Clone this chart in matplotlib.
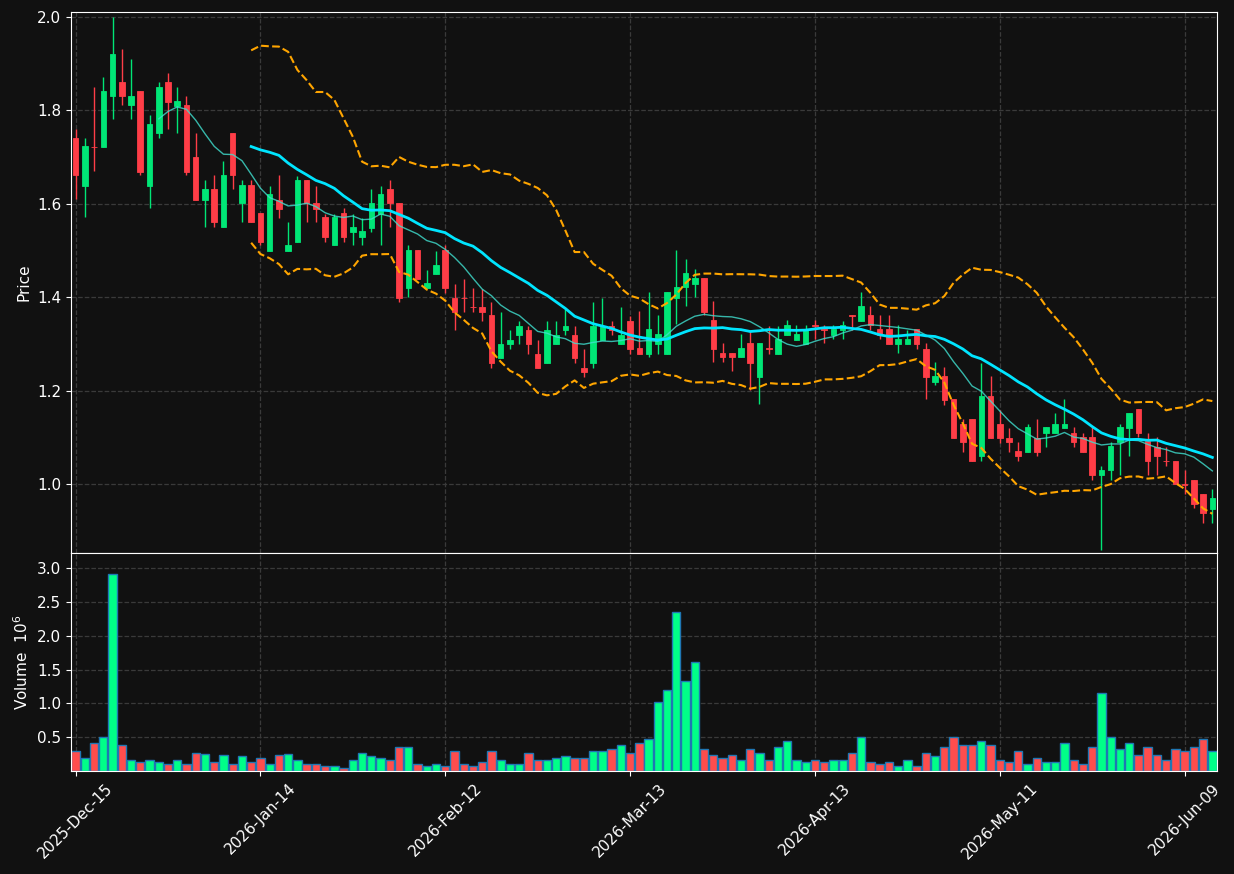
import matplotlib
matplotlib.use('Agg')
from matplotlib import pyplot as plt
import numpy as np
import pandas as pd

# daily candles, index 0 = 2025-Dec-15 (business days)
opens = [1.742, 1.639, 1.722, 1.721, 1.830, 1.861, 1.811, 1.842, 1.639, 1.751,
         1.861, 1.809, 1.812, 1.701, 1.609, 1.632, 1.550, 1.752, 1.601, 1.641,
         1.581, 1.499, 1.609, 1.499, 1.518, 1.650, 1.601, 1.571, 1.511, 1.580,
         1.540, 1.529, 1.549, 1.579, 1.631, 1.601, 1.420, 1.501, 1.420, 1.450,
         1.501, 1.399, 1.399, 1.379, 1.379, 1.361, 1.269, 1.299, 1.319, 1.330,
         1.279, 1.259, 1.299, 1.329, 1.319, 1.249, 1.259, 1.309, 1.339, 1.299,
         1.349, 1.291, 1.279, 1.300, 1.279, 1.399, 1.421, 1.429, 1.441, 1.351,
         1.281, 1.281, 1.271, 1.301, 1.230, 1.291, 1.279, 1.320, 1.309, 1.300,
         1.340, 1.331, 1.320, 1.330, 1.361, 1.350, 1.361, 1.331, 1.331, 1.300,
         1.300, 1.331, 1.290, 1.218, 1.231, 1.181, 1.129, 1.140, 1.059, 1.189,
         1.129, 1.099, 1.070, 1.068, 1.098, 1.109, 1.109, 1.120, 1.110, 1.100,
         1.100, 1.019, 1.029, 1.089, 1.120, 1.160, 1.091, 1.080, 1.049, 1.050,
         0.999, 1.009, 0.979, 0.947]
highs = [1.761, 1.741, 1.850, 1.871, 2.000, 1.931, 1.910, 1.842, 1.790, 1.861,
         1.880, 1.850, 1.831, 1.751, 1.651, 1.661, 1.691, 1.752, 1.651, 1.651,
         1.581, 1.639, 1.661, 1.560, 1.660, 1.650, 1.639, 1.579, 1.579, 1.590,
         1.579, 1.570, 1.631, 1.639, 1.650, 1.601, 1.511, 1.501, 1.459, 1.500,
         1.511, 1.429, 1.439, 1.420, 1.418, 1.389, 1.368, 1.330, 1.349, 1.339,
         1.309, 1.349, 1.349, 1.375, 1.339, 1.289, 1.389, 1.399, 1.349, 1.379,
         1.359, 1.370, 1.411, 1.361, 1.411, 1.501, 1.482, 1.461, 1.441, 1.391,
         1.301, 1.281, 1.321, 1.329, 1.301, 1.339, 1.339, 1.351, 1.340, 1.340,
         1.351, 1.341, 1.340, 1.350, 1.361, 1.411, 1.381, 1.361, 1.361, 1.340,
         1.330, 1.331, 1.301, 1.261, 1.250, 1.181, 1.139, 1.140, 1.260, 1.231,
         1.159, 1.120, 1.090, 1.129, 1.140, 1.121, 1.151, 1.181, 1.121, 1.110,
         1.121, 1.039, 1.090, 1.129, 1.151, 1.160, 1.110, 1.101, 1.080, 1.050,
         1.030, 1.009, 0.979, 0.989]
lows = [1.611, 1.571, 1.670, 1.721, 1.781, 1.811, 1.781, 1.661, 1.591, 1.741,
        1.760, 1.751, 1.661, 1.609, 1.550, 1.550, 1.550, 1.631, 1.560, 1.560,
        1.512, 1.499, 1.570, 1.499, 1.518, 1.560, 1.560, 1.519, 1.511, 1.519,
        1.511, 1.511, 1.540, 1.511, 1.551, 1.390, 1.400, 1.440, 1.420, 1.450,
        1.410, 1.330, 1.368, 1.368, 1.349, 1.249, 1.269, 1.289, 1.300, 1.279,
        1.249, 1.259, 1.299, 1.319, 1.259, 1.229, 1.249, 1.309, 1.319, 1.299,
        1.279, 1.279, 1.271, 1.279, 1.279, 1.342, 1.381, 1.400, 1.362, 1.261,
        1.261, 1.241, 1.271, 1.201, 1.171, 1.279, 1.279, 1.320, 1.309, 1.300,
        1.310, 1.301, 1.310, 1.310, 1.330, 1.350, 1.330, 1.310, 1.300, 1.280,
        1.300, 1.290, 1.181, 1.211, 1.170, 1.098, 1.069, 1.049, 1.049, 1.098,
        1.088, 1.069, 1.049, 1.068, 1.059, 1.079, 1.109, 1.120, 1.079, 1.068,
        1.009, 0.858, 1.009, 1.019, 1.059, 1.101, 1.019, 1.019, 1.039, 0.999,
        0.978, 0.948, 0.917, 0.917]
closes = [1.661, 1.723, 1.721, 1.842, 1.921, 1.830, 1.831, 1.669, 1.771, 1.851,
          1.819, 1.821, 1.669, 1.609, 1.632, 1.560, 1.662, 1.661, 1.641, 1.560,
          1.519, 1.620, 1.589, 1.511, 1.650, 1.601, 1.589, 1.529, 1.571, 1.529,
          1.550, 1.541, 1.601, 1.621, 1.601, 1.399, 1.501, 1.440, 1.430, 1.470,
          1.420, 1.368, 1.398, 1.378, 1.368, 1.259, 1.300, 1.309, 1.339, 1.299,
          1.249, 1.330, 1.319, 1.339, 1.269, 1.239, 1.339, 1.339, 1.329, 1.319,
          1.288, 1.279, 1.331, 1.321, 1.411, 1.421, 1.452, 1.441, 1.369, 1.290,
          1.271, 1.271, 1.291, 1.260, 1.301, 1.290, 1.311, 1.340, 1.321, 1.331,
          1.339, 1.330, 1.331, 1.340, 1.360, 1.381, 1.340, 1.320, 1.300, 1.310,
          1.310, 1.300, 1.229, 1.231, 1.180, 1.098, 1.090, 1.049, 1.189, 1.098,
          1.098, 1.090, 1.059, 1.121, 1.068, 1.121, 1.129, 1.129, 1.090, 1.068,
          1.019, 1.030, 1.081, 1.121, 1.151, 1.109, 1.049, 1.059, 1.048, 0.999,
          0.998, 0.958, 0.938, 0.969]
volumes = [0.29, 0.19, 0.41, 0.50, 2.91, 0.38, 0.17, 0.13, 0.16, 0.13,
           0.11, 0.16, 0.11, 0.27, 0.25, 0.14, 0.23, 0.10, 0.22, 0.13,
           0.19, 0.10, 0.23, 0.25, 0.17, 0.11, 0.10, 0.07, 0.07, 0.05,
           0.16, 0.26, 0.22, 0.19, 0.17, 0.35, 0.36, 0.11, 0.07, 0.11,
           0.07, 0.30, 0.11, 0.07, 0.14, 0.30, 0.17, 0.11, 0.11, 0.27,
           0.17, 0.17, 0.20, 0.22, 0.19, 0.20, 0.30, 0.29, 0.33, 0.39,
           0.26, 0.41, 0.47, 1.02, 1.19, 2.35, 1.33, 1.61, 0.32, 0.23,
           0.19, 0.23, 0.16, 0.33, 0.26, 0.17, 0.35, 0.44, 0.17, 0.13,
           0.17, 0.13, 0.16, 0.16, 0.26, 0.50, 0.13, 0.11, 0.13, 0.08,
           0.16, 0.07, 0.26, 0.22, 0.36, 0.50, 0.39, 0.39, 0.45, 0.38,
           0.17, 0.14, 0.29, 0.10, 0.20, 0.14, 0.13, 0.41, 0.17, 0.11,
           0.36, 1.16, 0.50, 0.33, 0.42, 0.23, 0.36, 0.23, 0.17, 0.33,
           0.29, 0.36, 0.47, 0.29]

tick_pos = [0, 20, 40, 60, 80, 100, 120]
tick_labels = ['2025-Dec-15', '2026-Jan-14', '2026-Feb-12', '2026-Mar-13',
               '2026-Apr-13', '2026-May-11', '2026-Jun-09']

bg = '#111111'
up_c, down_c = '#00e676', '#ff3d47'
vol_up, vol_down = '#00ff88', '#ff4d4d'

o = np.array(opens); c = np.array(closes)
x = np.arange(len(opens))
up = c > o
cols = np.where(up, up_c, down_c)
vcols = np.where(up, vol_up, vol_down)

s = pd.Series(closes)
ma10 = s.rolling(10).mean()
ma20 = s.rolling(20).mean()
sd20 = s.rolling(20).std(ddof=0)

fig = plt.figure(figsize=(12.34, 8.74), dpi=100, facecolor=bg)
ax = fig.add_axes([0.0575, 0.3673, 0.9287, 0.619])
axv = fig.add_axes([0.0575, 0.1178, 0.9287, 0.2494], sharex=ax)

for a in (ax, axv):
    a.set_facecolor(bg)
    for sp in a.spines.values():
        sp.set_color('white')
    a.tick_params(colors='white', labelsize=11)
    a.grid(True, linestyle='--', color='#3a3a3a', linewidth=0.9)
    a.set_axisbelow(True)

# candles
ax.vlines(x, lows, highs, colors=cols, linewidth=1)
ax.bar(x, c - o, bottom=o, width=0.6, color=cols, edgecolor=cols, linewidth=0.6)

ax.plot(x, ma10, color='#40e0d0', linewidth=1, alpha=0.8)
ax.plot(x, ma20, color='#00e5ff', linewidth=2)
ax.plot(x, ma20 + 2 * sd20, color='#ffa500', linestyle='--', linewidth=1.5)
ax.plot(x, ma20 - 2 * sd20, color='#ffa500', linestyle='--', linewidth=1.5)

ax.set_ylim(0.852, 2.011)
ax.set_yticks([1.0, 1.2, 1.4, 1.6, 1.8, 2.0])
ax.set_ylabel('Price', color='white', fontsize=11)
plt.setp(ax.get_xticklabels(), visible=False)

# volume
axv.bar(x, volumes, width=0.9, color=vcols, edgecolor='#1f77b4', linewidth=1)
axv.set_ylim(0, 3.22)
axv.set_yticks([0.5, 1.0, 1.5, 2.0, 2.5, 3.0])
axv.set_ylabel('Volume  $10^6$', color='white', fontsize=11)

axv.set_xlim(-0.5, 123.5)
axv.set_xticks(tick_pos)
axv.set_xticklabels(tick_labels, rotation=45)

plt.savefig('out.png', dpi=100, facecolor=bg)
